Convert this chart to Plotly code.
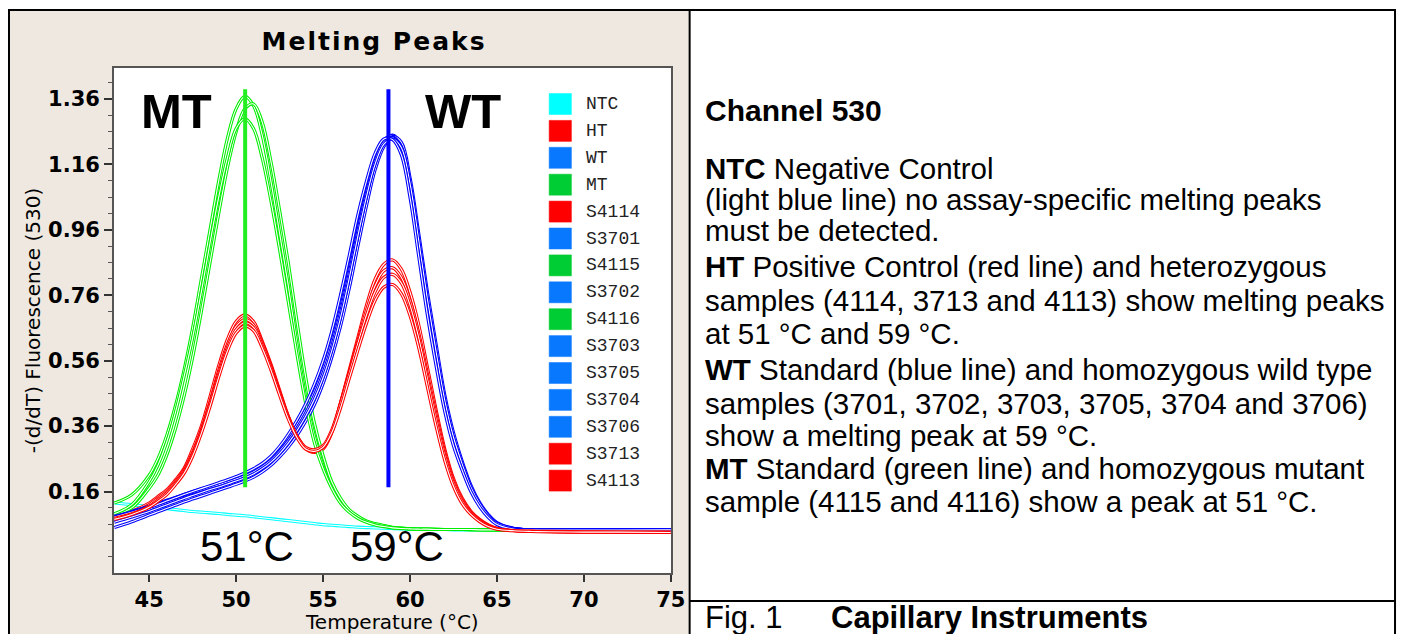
import plotly.graph_objects as go

# The page body keeps its default 8 px margin, so the figure is drawn 8 px smaller
# and every reference pixel position is shifted by that offset.
OFF = 8
W, H = 1412 - OFF, 634 - OFF

# ---------------- data ----------------
temps = [43, 44, 45, 45.5, 46, 46.5, 47, 47.5, 48, 48.5, 49, 49.5, 50, 50.5, 51, 51.5,
         52, 52.5, 53, 53.5, 54, 54.5, 55, 55.5, 56, 56.5, 57, 57.5, 58, 58.5, 59, 59.5,
         60, 60.5, 61, 61.5, 62, 62.5, 63, 63.5, 64, 64.5, 65, 66, 67, 68, 70, 72, 75]

ntc = [0.125, 0.120, 0.114, 0.111, 0.108, 0.105, 0.102, 0.099, 0.097, 0.095,
       0.093, 0.090, 0.088, 0.086, 0.083, 0.080, 0.077, 0.074, 0.071, 0.068,
       0.065, 0.062, 0.059, 0.057, 0.055, 0.053, 0.051, 0.050, 0.049, 0.048,
       0.047, 0.046, 0.045, 0.045, 0.044, 0.044, 0.044, 0.043, 0.043, 0.043,
       0.043, 0.043, 0.042, 0.042, 0.042, 0.042, 0.042, 0.041, 0.041]

ht = [0.085, 0.100, 0.125, 0.145, 0.165, 0.195, 0.230, 0.290, 0.360, 0.450,
      0.545, 0.625, 0.680, 0.700, 0.680, 0.620, 0.550, 0.470, 0.390, 0.330,
      0.290, 0.280, 0.290, 0.340, 0.430, 0.530, 0.630, 0.730, 0.810, 0.855,
      0.868, 0.840, 0.770, 0.670, 0.540, 0.410, 0.290, 0.200, 0.140, 0.100,
      0.075, 0.058, 0.048, 0.042, 0.040, 0.038, 0.037, 0.037, 0.037]

wt = [0.080, 0.095, 0.110, 0.120, 0.130, 0.140, 0.150, 0.158, 0.166, 0.174,
      0.182, 0.190, 0.200, 0.210, 0.222, 0.238, 0.258, 0.285, 0.318, 0.355,
      0.400, 0.452, 0.520, 0.600, 0.700, 0.820, 0.950, 1.070, 1.170, 1.230,
      1.250, 1.220, 1.100, 0.920, 0.740, 0.580, 0.430, 0.320, 0.240, 0.170,
      0.120, 0.085, 0.062, 0.046, 0.043, 0.042, 0.042, 0.042, 0.043]

mt = [0.125, 0.150, 0.210, 0.260, 0.330, 0.420, 0.530, 0.660, 0.810, 0.960,
      1.110, 1.240, 1.330, 1.368, 1.340, 1.250, 1.110, 0.950, 0.790, 0.610,
      0.450, 0.330, 0.240, 0.175, 0.130, 0.100, 0.080, 0.068, 0.060, 0.055,
      0.050, 0.048, 0.046, 0.045, 0.045, 0.045, 0.044, 0.044, 0.044, 0.044,
      0.044, 0.043, 0.043, 0.043, 0.042, 0.042, 0.042, 0.041, 0.040]

s4114 = [0.080, 0.095, 0.120, 0.140, 0.160, 0.190, 0.225, 0.280, 0.350, 0.435,
         0.530, 0.610, 0.665, 0.686, 0.670, 0.615, 0.545, 0.465, 0.390, 0.330,
         0.292, 0.284, 0.296, 0.345, 0.430, 0.525, 0.620, 0.715, 0.790, 0.835,
         0.844, 0.815, 0.745, 0.645, 0.520, 0.395, 0.280, 0.193, 0.135, 0.097,
         0.073, 0.057, 0.047, 0.041, 0.039, 0.038, 0.037, 0.036, 0.036]

s3701 = [0.088, 0.100, 0.115, 0.124, 0.133, 0.142, 0.151, 0.160, 0.168, 0.176,
         0.184, 0.193, 0.203, 0.214, 0.227, 0.243, 0.264, 0.292, 0.326, 0.365,
         0.412, 0.466, 0.535, 0.618, 0.720, 0.840, 0.968, 1.085, 1.180, 1.235,
         1.248, 1.212, 1.090, 0.910, 0.730, 0.570, 0.425, 0.315, 0.235, 0.166,
         0.118, 0.084, 0.061, 0.046, 0.043, 0.042, 0.042, 0.043, 0.044]

s4115 = [0.090, 0.110, 0.170, 0.210, 0.270, 0.350, 0.450, 0.570, 0.710, 0.860,
         1.010, 1.150, 1.260, 1.330, 1.345, 1.290, 1.170, 1.020, 0.860, 0.680,
         0.510, 0.370, 0.270, 0.190, 0.140, 0.105, 0.085, 0.070, 0.062, 0.056,
         0.051, 0.048, 0.046, 0.045, 0.045, 0.044, 0.044, 0.044, 0.044, 0.043,
         0.043, 0.043, 0.043, 0.042, 0.042, 0.042, 0.041, 0.041, 0.040]

s3702 = [0.050, 0.068, 0.088, 0.098, 0.108, 0.118, 0.128, 0.137, 0.146, 0.155,
         0.164, 0.173, 0.182, 0.192, 0.204, 0.220, 0.240, 0.266, 0.296, 0.332,
         0.375, 0.425, 0.490, 0.570, 0.665, 0.780, 0.910, 1.035, 1.145, 1.215,
         1.245, 1.228, 1.120, 0.950, 0.770, 0.610, 0.455, 0.340, 0.253, 0.180,
         0.127, 0.090, 0.065, 0.047, 0.043, 0.042, 0.042, 0.042, 0.042]

s4116 = [0.092, 0.120, 0.190, 0.240, 0.310, 0.400, 0.510, 0.630, 0.770, 0.920,
         1.060, 1.180, 1.270, 1.300, 1.270, 1.180, 1.050, 0.900, 0.740, 0.580,
         0.430, 0.310, 0.230, 0.170, 0.125, 0.097, 0.078, 0.066, 0.058, 0.053,
         0.049, 0.047, 0.046, 0.045, 0.045, 0.044, 0.044, 0.044, 0.044, 0.044,
         0.043, 0.043, 0.043, 0.043, 0.042, 0.042, 0.042, 0.041, 0.041]

s3703 = [0.075, 0.090, 0.106, 0.115, 0.125, 0.135, 0.145, 0.154, 0.162, 0.170,
         0.178, 0.186, 0.195, 0.205, 0.218, 0.234, 0.254, 0.280, 0.312, 0.350,
         0.395, 0.448, 0.515, 0.596, 0.696, 0.815, 0.945, 1.065, 1.165, 1.226,
         1.244, 1.215, 1.098, 0.922, 0.742, 0.582, 0.434, 0.323, 0.241, 0.171,
         0.121, 0.086, 0.063, 0.046, 0.043, 0.042, 0.042, 0.043, 0.043]

s3705 = [0.084, 0.098, 0.113, 0.122, 0.131, 0.140, 0.149, 0.157, 0.165, 0.173,
         0.181, 0.189, 0.198, 0.208, 0.220, 0.236, 0.256, 0.283, 0.316, 0.354,
         0.400, 0.454, 0.522, 0.604, 0.706, 0.826, 0.956, 1.075, 1.172, 1.230,
         1.242, 1.210, 1.092, 0.915, 0.736, 0.576, 0.428, 0.318, 0.238, 0.169,
         0.120, 0.085, 0.062, 0.046, 0.043, 0.042, 0.043, 0.043, 0.044]

s3704 = [0.066, 0.082, 0.099, 0.109, 0.119, 0.129, 0.139, 0.148, 0.157, 0.166,
         0.174, 0.183, 0.192, 0.202, 0.214, 0.230, 0.250, 0.276, 0.308, 0.346,
         0.390, 0.442, 0.508, 0.590, 0.690, 0.810, 0.940, 1.062, 1.162, 1.222,
         1.238, 1.212, 1.102, 0.928, 0.748, 0.588, 0.438, 0.326, 0.244, 0.173,
         0.123, 0.087, 0.063, 0.047, 0.043, 0.042, 0.042, 0.042, 0.043]

s3706 = [0.082, 0.097, 0.112, 0.121, 0.131, 0.141, 0.151, 0.160, 0.169, 0.178,
         0.187, 0.196, 0.206, 0.217, 0.230, 0.246, 0.268, 0.298, 0.335, 0.378,
         0.428, 0.488, 0.560, 0.650, 0.760, 0.880, 1.005, 1.110, 1.195, 1.238,
         1.236, 1.190, 1.060, 0.880, 0.700, 0.545, 0.405, 0.300, 0.225, 0.160,
         0.114, 0.081, 0.059, 0.045, 0.043, 0.042, 0.042, 0.042, 0.043]

s3713 = [0.078, 0.092, 0.115, 0.135, 0.155, 0.185, 0.220, 0.275, 0.345, 0.430,
         0.520, 0.600, 0.655, 0.676, 0.662, 0.608, 0.540, 0.462, 0.388, 0.330,
         0.295, 0.288, 0.300, 0.348, 0.428, 0.520, 0.612, 0.700, 0.772, 0.815,
         0.824, 0.798, 0.730, 0.630, 0.505, 0.380, 0.270, 0.186, 0.130, 0.094,
         0.071, 0.055, 0.046, 0.041, 0.039, 0.038, 0.037, 0.036, 0.036]

s4113 = [0.075, 0.090, 0.112, 0.130, 0.150, 0.180, 0.215, 0.268, 0.338, 0.420,
         0.510, 0.590, 0.645, 0.666, 0.652, 0.600, 0.532, 0.455, 0.382, 0.325,
         0.290, 0.283, 0.295, 0.340, 0.415, 0.505, 0.592, 0.675, 0.745, 0.785,
         0.793, 0.765, 0.698, 0.600, 0.480, 0.360, 0.255, 0.176, 0.123, 0.090,
         0.068, 0.053, 0.045, 0.040, 0.038, 0.037, 0.036, 0.036, 0.035]

sample_names = ["NTC", "HT", "WT", "MT", "S4114", "S3701", "S4115", "S3702",
                "S4116", "S3703", "S3705", "S3704", "S3706", "S3713", "S4113"]
sample_groups = ["NTC", "HT", "WT", "MT", "HT", "WT", "MT", "WT",
                 "MT", "WT", "WT", "WT", "WT", "HT", "HT"]
sample_values = [ntc, ht, wt, mt, s4114, s3701, s4115, s3702,
                 s4116, s3703, s3705, s3704, s3706, s3713, s4113]

curve_colors = {"NTC": "#00FFFF", "HT": "#FF0000", "WT": "#0000FF", "MT": "#00EE00"}
legend_colors = {"NTC": "#00FFFF", "HT": "#FF0000", "WT": "#0878FF", "MT": "#00CC33"}

peak_temps = [50.52, 58.76]
peak_line_y = [0.173, 1.39]
peak_line_colors = ["#22EE22", "#0000FF"]

x_ticks = [45, 50, 55, 60, 65, 70, 75]
y_ticks = [0.16, 0.36, 0.56, 0.76, 0.96, 1.16, 1.36]
y_ticklabels = ["0.16", "0.36", "0.56", "0.76", "0.96", "1.16", "1.36"]

# ---------------- figure ----------------
def px_x(px):
    return (px - OFF) / W

def px_y(py):
    return 1 - (py - OFF) / H

fig = go.Figure()

for name, grp, vals in zip(sample_names, sample_groups, sample_values):
    col = curve_colors[grp]
    fig.add_trace(go.Scatter(x=temps, y=vals, mode="lines", name=name,
                             line=dict(color=col, width=3.2, shape="spline", smoothing=1.0),
                             showlegend=False, hoverinfo="skip"))
    fig.add_trace(go.Scatter(x=temps, y=vals, mode="lines", name=name + " core",
                             line=dict(color="white", width=1.1, shape="spline", smoothing=1.0),
                             showlegend=False, hoverinfo="skip"))

for t, c in zip(peak_temps, peak_line_colors):
    fig.add_trace(go.Scatter(x=[t, t], y=peak_line_y, mode="lines",
                             line=dict(color=c, width=4), showlegend=False, hoverinfo="skip"))

shapes = []
shapes.append(dict(type="rect", xref="paper", yref="paper", x0=px_x(8), x1=px_x(697),
                   y0=px_y(634), y1=px_y(10), fillcolor="#EEE8E0", line=dict(width=0), layer="below"))
shapes.append(dict(type="rect", xref="x domain", yref="y domain", x0=0, x1=1, y0=0, y1=1,
                   fillcolor="white", line=dict(width=0), layer="below"))

def hline(x0, x1, y, w=2):
    return dict(type="line", xref="paper", yref="paper", x0=px_x(x0), x1=px_x(x1),
                y0=px_y(y), y1=px_y(y), line=dict(color="black", width=w))

def vline(x, y0, y1, w=2):
    return dict(type="line", xref="paper", yref="paper", x0=px_x(x), x1=px_x(x),
                y0=px_y(y0), y1=px_y(y1), line=dict(color="black", width=w))

shapes += [hline(8, 1411, 10), vline(9, 10, 634), vline(697, 10, 634),
           vline(1410, 10, 634), hline(697, 1411, 601)]

leg_top = 104
leg_step = 26.9
for i, (name, grp) in enumerate(zip(sample_names, sample_groups)):
    cy = leg_top + i * leg_step
    shapes.append(dict(type="rect", xref="paper", yref="paper", x0=px_x(555), x1=px_x(577.5),
                       y0=px_y(cy + 10.5), y1=px_y(cy - 10.5), fillcolor=legend_colors[grp],
                       line=dict(color=legend_colors[grp], width=0.5)))

ann = []
def text(t, px, py, size, family="Liberation Sans, Arial", bold=False, xanchor="left", color="black"):
    ann.append(dict(text=t, x=px_x(px), y=px_y(py), xref="paper", yref="paper",
                    xanchor=xanchor, yanchor="middle", showarrow=False,
                    font=dict(family=family, size=size, color=color,
                              weight="bold" if bold else "normal")))

for i, name in enumerate(sample_names):
    text(name, 590, leg_top + i * leg_step, 18, family="Liberation Mono, Courier New", color="#222222")

text("MT", 178, 111, 49, bold=True, xanchor="center")
text("WT", 468, 111, 49, bold=True, xanchor="center")
text("51°C", 250, 546, 42, xanchor="center")
text("59°C", 401, 546, 42, xanchor="center")

text("<b>Channel 530</b>", 710, 111, 30)
right_lines = [
    ("<b>NTC</b> Negative Control", 169),
    ("(light blue line) no assay-specific melting peaks", 199),
    ("must be detected.", 230),
    ("<b>HT</b> Positive Control (red line) and heterozygous", 266),
    ("samples (4114, 3713 and 4113) show melting peaks", 300),
    ("at 51 °C and 59 °C.", 333),
    ("<b>WT</b> Standard (blue line) and homozygous wild type", 369),
    ("samples (3701, 3702, 3703, 3705, 3704 and 3706)", 403),
    ("show a melting peak at 59 °C.", 435),
    ("<b>MT</b> Standard (green line) and homozygous mutant", 468),
    ("sample (4115 and 4116) show a peak at 51 °C.", 501),
]
for t, y in right_lines:
    text(t, 710, y, 29.5)

text("Fig. 1", 710, 617, 31)
text("<b>Capillary Instruments</b>", 838, 617, 31)

fig.update_layout(
    width=W, height=H, autosize=False,
    margin=dict(l=0, r=0, t=0, b=0),
    paper_bgcolor="white", plot_bgcolor="white",
    title=dict(text='<span style="letter-spacing:2px">Melting Peaks</span>',
               x=px_x(378), xanchor="center", y=px_y(41), yanchor="middle",
               xref="paper", yref="paper",
               font=dict(family="DejaVu Sans", size=25, weight="bold", color="black")),
    shapes=shapes, annotations=ann,
    xaxis=dict(domain=[px_x(115), px_x(678)], range=[42.97, 75],
               tickmode="array", tickvals=x_ticks, ticks="outside", ticklen=7,
               tickwidth=1.5, tickcolor="#333333",
               showline=True, mirror=True, linecolor="#555555", linewidth=1.5,
               showgrid=False, zeroline=False,
               tickfont=dict(family="DejaVu Sans", size=21, weight="bold", color="black"),
               title=dict(text="Temperature (°C)", standoff=6,
                          font=dict(family="DejaVu Sans", size=20, color="black"))),
    yaxis=dict(domain=[px_y(573), px_y(68)], range=[-0.089, 1.455],
               tickmode="array", tickvals=y_ticks, ticktext=y_ticklabels,
               ticks="outside", ticklen=8, tickwidth=1.5, tickcolor="#333333",
               minor=dict(tickmode="linear", tick0=0.16, dtick=0.05, ticks="outside",
                          ticklen=4, tickwidth=1, tickcolor="#555555", showgrid=False),
               showline=True, mirror=True, linecolor="#555555", linewidth=1.5,
               showgrid=False, zeroline=False,
               tickfont=dict(family="DejaVu Sans", size=21, weight="bold", color="black"),
               title=dict(text="-(d/dT) Fluorescence (530)", standoff=2,
                          font=dict(family="DejaVu Sans", size=20, color="black"))),
)

fig.write_html("out.html")
